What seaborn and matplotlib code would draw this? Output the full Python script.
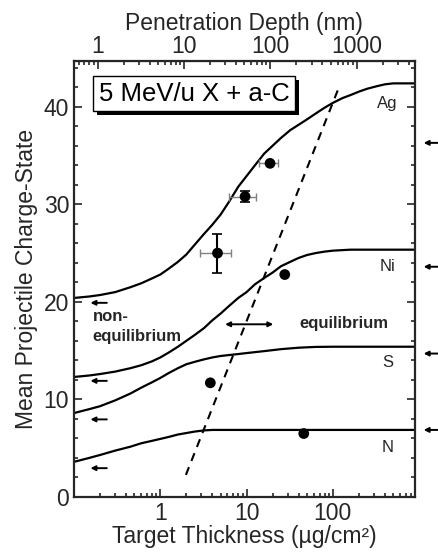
import numpy as np
import pandas as pd
import seaborn as sns
import matplotlib.pyplot as plt
import matplotlib.patheffects as pe
from matplotlib.ticker import FixedLocator, LogLocator, MultipleLocator, NullFormatter, FixedFormatter

# Curvas calculadas (espessura em ug/cm2 -> carga media)
ag_x = [0.1, 0.15, 0.2, 0.3, 0.45, 0.6, 0.8, 1.0, 1.25, 1.6, 2.0, 2.5, 3.2, 4.0, 5.0, 6.3, 8.0, 10,
        12.5, 16, 20, 25, 32, 40, 50, 63, 80, 100, 130, 160, 200, 250, 320, 400, 500, 900]
ag_y = [20.4, 20.55, 20.7, 21.0, 21.5, 21.9, 22.4, 22.8, 23.4, 24.1, 24.85, 25.85, 26.95, 27.9, 28.95,
        30.3, 31.8, 32.9, 34.0, 35.2, 36.0, 36.8, 37.6, 38.15, 38.7, 39.3, 39.9, 40.4, 40.9, 41.2,
        41.55, 41.85, 42.1, 42.3, 42.4, 42.4]

ni_x = [0.1, 0.15, 0.2, 0.3, 0.45, 0.6, 0.8, 1.0, 1.25, 1.6, 2.0, 2.5, 3.2, 4.0, 5.0, 6.3, 8.0, 10,
        12.5, 16, 20, 25, 32, 40, 50, 63, 80, 100, 160, 900]
ni_y = [12.3, 12.45, 12.6, 12.85, 13.2, 13.5, 13.9, 14.3, 14.8, 15.4, 16.0, 16.6, 17.3, 18.1, 18.8,
        19.6, 20.4, 21.0, 21.8, 22.45, 23.0, 23.65, 24.1, 24.5, 24.8, 25.0, 25.15, 25.25, 25.35, 25.35]

s_x = [0.1, 0.15, 0.2, 0.3, 0.45, 0.6, 0.8, 1.0, 1.25, 1.6, 2.0, 2.5, 3.2, 4.0, 5.0, 6.3, 8.0, 10,
       16, 25, 40, 63, 100, 900]
s_y = [8.6, 9.0, 9.3, 9.9, 10.6, 11.2, 11.75, 12.2, 12.7, 13.2, 13.6, 13.85, 14.1, 14.3, 14.45,
       14.55, 14.65, 14.75, 14.95, 15.15, 15.3, 15.38, 15.4, 15.4]

n_x = [0.1, 0.15, 0.2, 0.3, 0.45, 0.6, 0.8, 1.0, 1.25, 1.6, 2.0, 2.5, 3.2, 4.0, 900]
n_y = [3.6, 4.0, 4.3, 4.75, 5.15, 5.5, 5.75, 5.95, 6.15, 6.4, 6.55, 6.7, 6.82, 6.87, 6.87]

# Linha tracejada (limite de equilibrio)
eq_x = [1.98, 120]
eq_y = [2.26, 42.2]

# Dados experimentais
ag_pts_x = [4.6, 9.6, 18.7]
ag_pts_y = [25.0, 30.8, 34.2]
ag_yerr = [2.0, 0.6, 0.0]
ag_xerr_lo = [1.75, 3.4, 4.6]
ag_xerr_hi = [2.0, 3.3, 4.6]
other_pts_x = [27.7, 3.8, 46]
other_pts_y = [22.8, 11.7, 6.5]

# Setas
left_arrow_y = [19.9, 11.9, 7.95, 2.95]
right_arrow_y = [36.3, 23.6, 14.7, 6.87]

ion_labels = ['Ag', 'Ni', 'S', 'N']
ion_label_y = [40.3, 23.6, 13.8, 5.1]

sns.set_style('ticks')
plt.rcParams['font.family'] = ['Liberation Sans', 'DejaVu Sans']

fig = plt.figure(figsize=(4.38, 5.54), dpi=100)
ax = fig.add_axes([0.169, 0.103, 0.778, 0.787])
ax.set_xscale('log')

for cx, cy in [(ag_x, ag_y), (ni_x, ni_y), (s_x, s_y), (n_x, n_y)]:
    sns.lineplot(x=cx, y=cy, ax=ax, color='black', lw=1.6, sort=False, estimator=None,
                 solid_joinstyle='round')

sns.lineplot(x=eq_x, y=eq_y, ax=ax, color='black', lw=1.5, linestyle=(0, (4, 3.2)),
             sort=False, estimator=None)

# Barras de erro
ax.errorbar(ag_pts_x, ag_pts_y, xerr=[ag_xerr_lo, ag_xerr_hi], fmt='none',
            ecolor='#808080', elinewidth=1.0, capsize=3, capthick=1.0, zorder=3)
ax.errorbar(ag_pts_x, ag_pts_y, yerr=ag_yerr, fmt='none',
            ecolor='black', elinewidth=1.5, capsize=3.5, capthick=1.2, zorder=4)
sns.scatterplot(x=ag_pts_x + other_pts_x, y=ag_pts_y + other_pts_y, ax=ax,
                color='black', s=60, edgecolor='none', zorder=5)

# Setas de carga de equilibrio / inicial
for yv in left_arrow_y:
    ax.annotate('', xy=(0.155, yv), xytext=(0.24, yv),
                arrowprops=dict(arrowstyle='-|>', color='black', lw=1.4,
                                mutation_scale=7, shrinkA=0, shrinkB=0))
for yv in right_arrow_y:
    ax.annotate('', xy=(1.026, yv), xytext=(1.07, yv),
                xycoords=('axes fraction', 'data'), textcoords=('axes fraction', 'data'),
                annotation_clip=False,
                arrowprops=dict(arrowstyle='-|>', color='black', lw=1.4,
                                mutation_scale=7, shrinkA=0, shrinkB=0))
ax.annotate('', xy=(5.64, 17.7), xytext=(20.4, 17.7),
            arrowprops=dict(arrowstyle='<|-|>', color='black', lw=1.4,
                            mutation_scale=7, shrinkA=0, shrinkB=0))

for lab, yv in zip(ion_labels, ion_label_y):
    ax.text(432, yv, lab, ha='center', va='center', fontsize=12)

ax.text(0.164, 18.5, 'non-', ha='left', va='center', fontsize=12, fontweight='bold')
ax.text(0.164, 16.45, 'equilibrium', ha='left', va='center', fontsize=12, fontweight='bold')
ax.text(134, 17.8, 'equilibrium', ha='center', va='center', fontsize=12, fontweight='bold')

# Caixa com sombra
box = ax.text(0.352, 0.925, '5 MeV/u X + a-C', transform=ax.transAxes, ha='center', va='center',
              fontsize=18.5, color='black',
              bbox=dict(boxstyle='square,pad=0.22', fc='white', ec='black', lw=1))
box.get_bbox_patch().set_path_effects([
    pe.SimplePatchShadow(offset=(3, -3), shadow_rgbFace='black', alpha=1.0),
    pe.Normal()])

ax.set_xlim(0.1, 890)
ax.set_ylim(0, 44.7)
ax.xaxis.set_major_locator(FixedLocator([0.1, 1, 10, 100]))
ax.xaxis.set_major_formatter(FixedFormatter(['', '1', '10', '100']))
ax.xaxis.set_minor_locator(LogLocator(base=10, subs=np.arange(2, 10), numticks=20))
ax.xaxis.set_minor_formatter(NullFormatter())
ax.yaxis.set_major_locator(MultipleLocator(10))
ax.yaxis.set_minor_locator(MultipleLocator(2))

ax.tick_params(which='both', direction='in', right=True, top=False, labelsize=16.5, width=1.2)
ax.tick_params(which='major', length=6)
ax.tick_params(which='minor', length=3)
for sp in ax.spines.values():
    sp.set_linewidth(1.6)
    sp.set_visible(True)

ax.set_xlabel('Target Thickness (µg/cm²)', fontsize=16.5, labelpad=0)
ax.set_ylabel('Mean Projectile Charge-State', fontsize=16.5, labelpad=4)

# Eixo superior: profundidade de penetracao (nm)
secax = ax.secondary_xaxis('top', functions=(lambda t: t * 5.3, lambda d: d / 5.3))
secax.xaxis.set_major_locator(FixedLocator([1, 10, 100, 1000]))
secax.xaxis.set_major_formatter(FixedFormatter(['1', '10', '100', '1000']))
secax.xaxis.set_minor_locator(LogLocator(base=10, subs=np.arange(2, 10), numticks=20))
secax.xaxis.set_minor_formatter(NullFormatter())
secax.tick_params(which='both', direction='in', labelsize=16.5, width=1.2, pad=2)
secax.tick_params(which='major', length=6)
secax.tick_params(which='minor', length=3)
secax.set_xlabel('Penetration Depth (nm)', fontsize=16.5, labelpad=4)

fig.savefig('out.png', dpi=100)
